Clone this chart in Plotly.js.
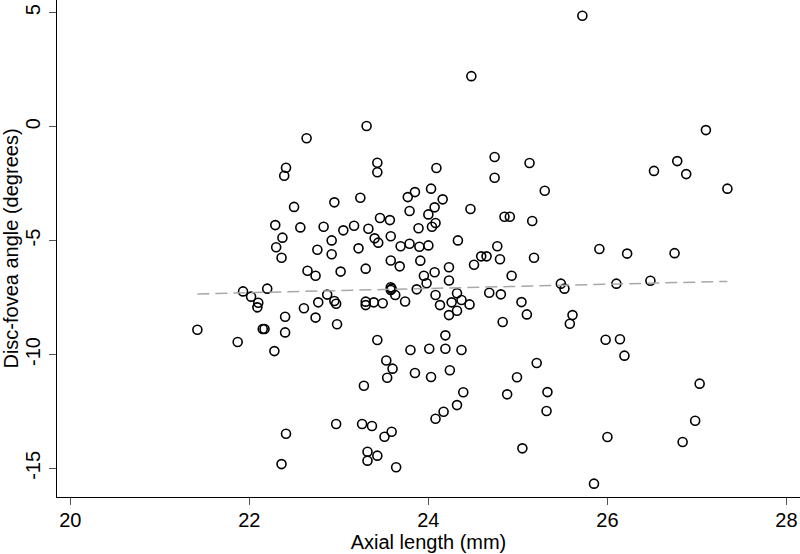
<!DOCTYPE html>
<html>
<head>
<meta charset="utf-8">
<script src="https://cdn.plot.ly/plotly-3.0.1.min.js"></script>
<style>html,body{margin:0;padding:0;background:#fff;}#chart{width:800px;height:554px;}</style>
</head>
<body>
<div id="chart"></div>
<script>
// Axial length (mm)
var axialLength = [
  22.64, 22.41, 22.39, 22.50, 22.95, 22.29, 22.57, 22.83, 22.37, 22.92,
  22.30, 22.76, 22.92, 22.36, 22.65, 22.74, 23.05, 23.02,
  23.31, 23.43, 23.43, 24.09, 24.74, 24.74, 23.24, 23.77, 23.85, 24.03,
  24.16, 23.79, 24.07, 24.00, 24.47, 23.46, 23.57, 23.17, 23.33, 23.89,
  24.08, 24.04, 23.40, 23.44, 23.58, 23.69, 23.79, 23.90, 24.00, 24.33,
  23.22, 23.58, 23.68, 23.91, 23.30, 23.95, 24.07, 24.23, 24.23, 24.51,
  24.59, 24.65, 24.77, 24.80,
  21.93, 22.20, 22.02, 22.10, 22.09, 21.42, 21.87, 22.15, 22.17, 22.40,
  22.40, 22.28, 22.61, 22.74, 22.77, 22.87, 22.95, 22.97, 22.98, 22.97,
  22.41, 22.36,
  23.98, 23.58, 23.58, 23.59, 23.87, 23.63, 23.74, 23.30, 23.30, 23.39, 23.49,
  24.08, 24.13, 24.23, 24.32, 24.26, 24.37, 24.32, 24.46, 24.68, 24.81,
  24.83, 23.43, 23.80, 24.01, 24.19, 24.37, 24.19, 23.53, 23.60, 23.54,
  23.85, 24.03, 24.24, 23.28, 24.39, 24.32, 24.17, 24.08, 23.26, 23.37,
  23.59, 23.51, 23.32, 23.43, 23.32, 23.64,
  25.72, 27.10, 25.13, 25.30, 26.52, 26.78, 26.88, 27.34, 24.85, 24.91,
  25.16,
  25.18, 25.91, 26.22, 26.75, 24.93, 25.48, 25.52, 26.10, 26.48, 25.04,
  25.10, 25.61, 25.58, 25.98, 26.14, 26.19, 25.21, 24.99, 24.88, 25.33,
  25.32, 25.05, 27.03, 26.98, 26.00, 26.84, 25.85, 24.48
];
// Disc-fovea angle (degrees)
var discFoveaAngle = [
  -0.51, -1.80, -2.15, -3.52, -3.32, -4.32, -4.42, -4.39, -4.87, -4.99,
  -5.29, -5.40, -5.60, -5.75, -6.32, -6.54, -4.55, -6.36,
  0.03, -1.58, -2.00, -1.81, -1.33, -2.24, -3.12, -3.09, -2.87, -2.72,
  -3.19, -3.70, -3.54, -3.85, -3.61, -4.01, -4.10, -4.35, -4.48, -4.46,
  -4.23, -4.39, -4.90, -5.09, -4.81, -5.25, -5.14, -5.27, -5.21, -4.99,
  -5.34, -5.87, -6.13, -5.88, -6.23, -6.54, -6.39, -6.17, -6.75, -6.06,
  -5.69, -5.69, -5.25, -5.82,
  -7.23, -7.11, -7.46, -7.73, -7.93, -8.91, -9.45, -8.88, -8.88, -8.34,
  -9.03, -9.85, -7.97, -8.38, -7.71, -7.37, -7.65, -7.77, -8.67, -13.05,
  -13.48, -14.81,
  -6.87, -7.05, -7.17, -7.11, -7.14, -7.39, -7.67, -7.68, -7.83, -7.71, -7.75,
  -7.39, -7.83, -8.27, -7.31, -7.71, -7.61, -8.08, -7.80, -7.29, -7.36,
  -8.57, -9.36, -9.80, -9.75, -9.75, -9.80, -9.16, -10.26, -10.62, -11.02,
  -10.81, -10.99, -10.69, -11.37, -11.66, -12.22, -12.51, -12.82, -13.05, -13.14,
  -13.39, -13.61, -14.27, -14.44, -14.66, -14.95,
  4.87, -0.15, -1.59, -2.81, -1.94, -1.51, -2.08, -2.72, -3.95, -3.95,
  -4.14,
  -5.75, -5.37, -5.57, -5.55, -6.54, -6.89, -7.11, -6.89, -6.76, -7.70,
  -8.24, -8.27, -8.65, -9.35, -9.33, -10.05, -10.37, -11.00, -11.75, -11.65,
  -12.48, -14.12, -11.28, -12.91, -13.62, -13.84, -15.67, 2.22
];
// Fitted line end points
var fitX = [21.42, 27.34];
var fitY = [-7.34, -6.79];

var xTicks = [20, 22, 24, 26, 28];
var yTicks = [-15, -10, -5, 0, 5];

var FONT = 'Liberation Sans, Arial, Helvetica, sans-serif';

var traces = [
  {
    x: axialLength, y: discFoveaAngle, type: 'scatter', mode: 'markers',
    marker: {symbol: 'circle-open', size: 9, color: '#000', line: {width: 1.6, color: '#000'}},
    cliponaxis: false, showlegend: false, hoverinfo: 'skip'
  },
  {
    x: fitX, y: fitY, type: 'scatter', mode: 'lines',
    line: {color: '#a8a8a8', width: 1.5, dash: '12px,6px'},
    showlegend: false, hoverinfo: 'skip'
  }
];

var axisCommon = {
  showgrid: false, zeroline: false, showline: true, linecolor: '#000', linewidth: 1,
  ticks: 'outside', ticklen: 7, tickwidth: 1, tickcolor: '#555',
  tickfont: {family: FONT, size: 20, color: '#000'}, automargin: false
};

var layout = {
  width: 800, height: 554,
  margin: {l: 57, r: 0, t: 0, b: 57, pad: 0},
  paper_bgcolor: '#fff', plot_bgcolor: '#fff',
  showlegend: false,
  xaxis: Object.assign({}, axisCommon, {
    range: [19.852, 28.151], tickvals: xTicks, ticktext: xTicks.map(String),
    ticklabelstandoff: -2,
    title: {text: 'Axial length (mm)', font: {family: FONT, size: 20, color: '#000'}, standoff: 1}
  }),
  yaxis: Object.assign({}, axisCommon, {
    range: [-16.255, 5.562], tickvals: yTicks, ticktext: yTicks.map(String), tickangle: -90,
    ticklabelstandoff: 1,
    title: {text: 'Disc-fovea angle (degrees)', font: {family: FONT, size: 20, color: '#000'}, standoff: 2}
  })
};

Plotly.newPlot('chart', traces, layout, {staticPlot: true, displayModeBar: false});
</script>
</body>
</html>
